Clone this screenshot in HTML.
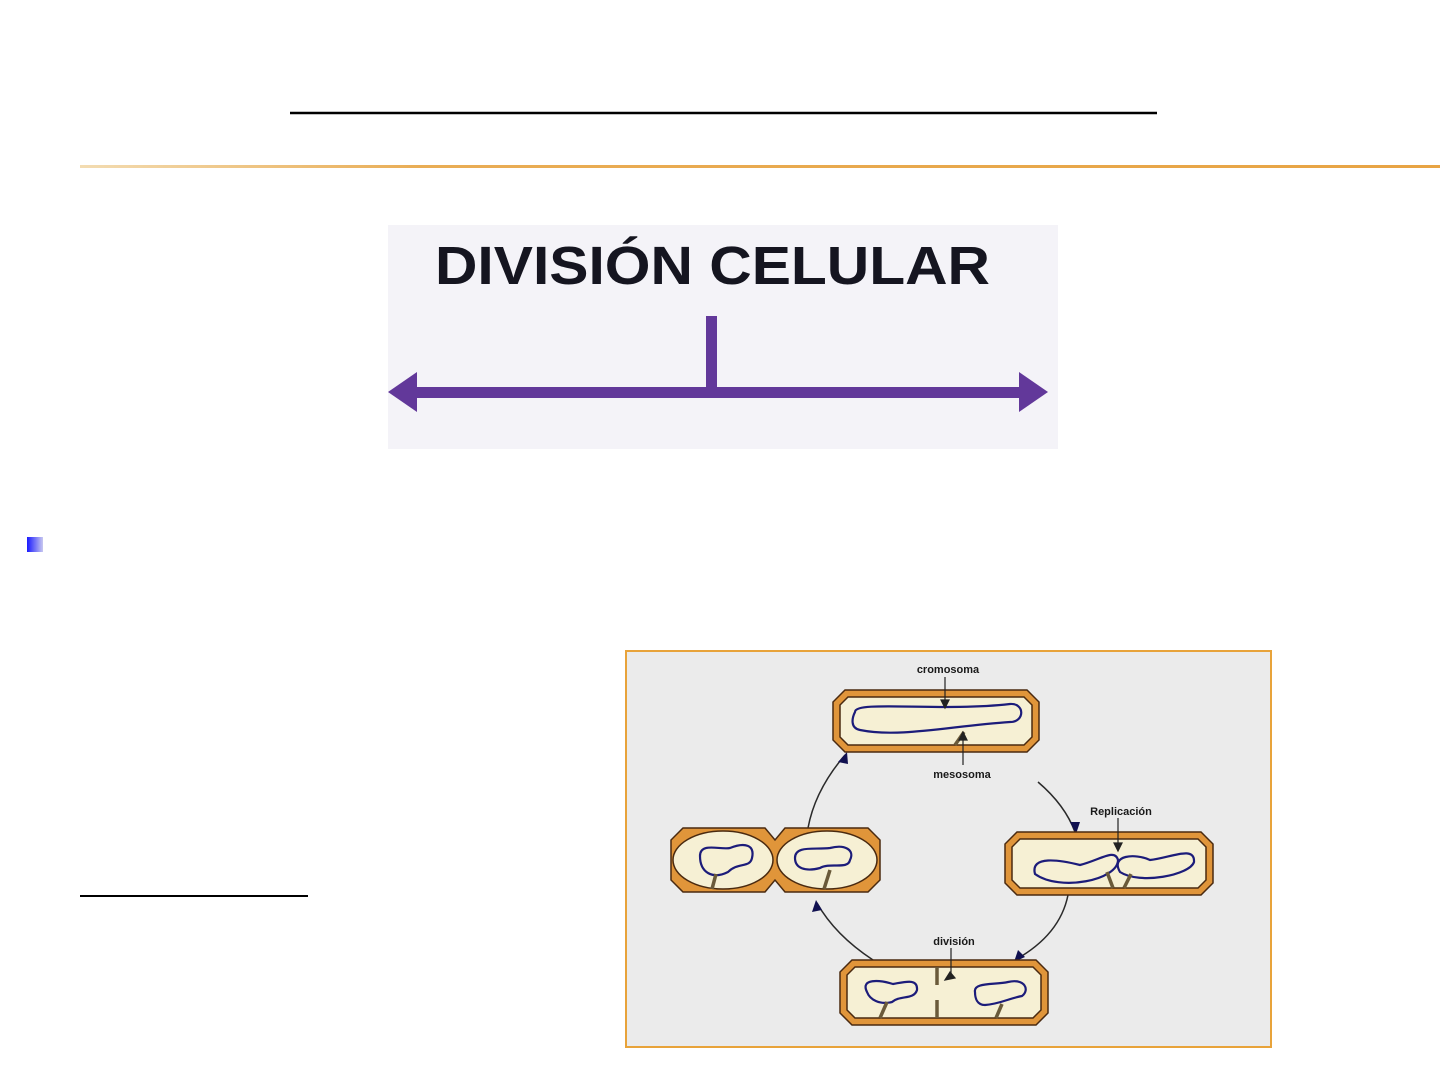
<!DOCTYPE html>
<html><head><meta charset="utf-8"><style>
html,body{margin:0;padding:0;background:#fff;}
svg{display:block}
</style></head><body>
<svg width="1440" height="1080" viewBox="0 0 1440 1080" xmlns="http://www.w3.org/2000/svg">
<defs>
<linearGradient id="og" x1="0" x2="1"><stop offset="0" stop-color="#f3dcb2"/><stop offset="0.25" stop-color="#e9ad55"/><stop offset="1" stop-color="#e8a444"/></linearGradient>
<linearGradient id="bg" x1="0" x2="1"><stop offset="0" stop-color="#1a1aff"/><stop offset="1" stop-color="#c8c8f0"/></linearGradient>
</defs>
<rect width="1440" height="1080" fill="#fff"/>
<line x1="290" y1="113" x2="1157" y2="113" stroke="#000" stroke-width="2.5"/>
<rect x="80" y="165" width="1360" height="3" fill="url(#og)"/>
<rect x="27" y="537" width="16" height="15" fill="url(#bg)"/>
<line x1="80" y1="896" x2="308" y2="896" stroke="#000" stroke-width="2"/>

<!-- division image -->
<rect x="388" y="225" width="670" height="224" fill="#f4f3f8"/>
<text x="435" y="284" font-family="Liberation Sans, sans-serif" font-weight="bold" font-size="54" fill="#151520" textLength="555" lengthAdjust="spacingAndGlyphs">DIVISIÓN CELULAR</text>
<rect x="706" y="316" width="11" height="76" fill="#62389a"/>
<rect x="408" y="387" width="620" height="11" fill="#62389a"/>
<polygon points="388,392 417,372 417,412" fill="#62389a"/>
<polygon points="1048,392 1019,372 1019,412" fill="#62389a"/>

<!-- cycle diagram -->
<rect x="626" y="651" width="645" height="396" fill="#ebebeb" stroke="#e8a33a" stroke-width="2"/>
<g stroke="#2a2a2a" stroke-width="1.5" fill="none">
<path d="M1038,782 Q1065,805 1075,832"/>
<path d="M1068,895 Q1060,935 1015,960"/>
<path d="M873,960 Q835,935 817,903"/>
<path d="M808,828 Q815,790 845,755"/>
</g>
<g fill="#101050">
<polygon points="1076,834 1070,822 1080,822"/>
<polygon points="1014,962 1018,950 1025,957"/>
<polygon points="816,900 812,912 822,910"/>
<polygon points="847,752 838,762 848,764"/>
</g>
<g id="cells" stroke="#4a2a10" stroke-width="1.5">
<!-- top cell -->
<polygon points="845,690 1027,690 1039,702 1039,740 1027,752 845,752 833,740 833,702" fill="#e0953a"/>
<polygon points="848,697 1024,697 1032,705 1032,737 1024,745 848,745 840,737 840,705" fill="#f6f0d4"/>
<!-- right cell -->
<polygon points="1017,832 1201,832 1213,844 1213,883 1201,895 1017,895 1005,883 1005,844" fill="#e0953a"/>
<polygon points="1020,839 1198,839 1206,847 1206,880 1198,888 1020,888 1012,880 1012,847" fill="#f6f0d4"/>
<!-- bottom cell -->
<polygon points="852,960 1036,960 1048,972 1048,1013 1036,1025 852,1025 840,1013 840,972" fill="#e0953a"/>
<polygon points="855,967 1033,967 1041,975 1041,1010 1033,1018 855,1018 847,1010 847,975" fill="#f6f0d4"/>
<!-- left pair -->
<polygon points="683,828 765,828 775,840 785,828 868,828 880,840 880,880 868,892 785,892 775,880 765,892 683,892 671,880 671,840" fill="#e0953a"/>
<ellipse cx="723" cy="860" rx="50" ry="29" fill="#f6f0d4"/>
<ellipse cx="827" cy="860" rx="50" ry="29" fill="#f6f0d4"/>
</g>
<g fill="none" stroke="#1c1c7a" stroke-width="2.2">
<path d="M855,712 C855,700 940,712 1010,704 C1025,703 1025,722 1010,722 C950,726 900,738 860,730 C850,728 852,718 855,712 Z"/>
<path d="M1035,874 C1030,855 1060,860 1080,865 C1100,860 1115,848 1118,860 C1118,880 1060,892 1035,874 Z"/>
<path d="M1120,872 C1110,855 1135,853 1150,860 C1170,858 1195,845 1194,862 C1190,875 1140,885 1120,872 Z"/>
<path d="M867,992 C860,978 880,980 893,984 C905,982 918,978 917,990 C914,1000 900,995 892,1002 C880,1005 870,1000 867,992 Z"/>
<path d="M975,992 C973,982 995,985 1008,982 C1025,978 1030,990 1022,996 C1010,998 1000,1004 985,1005 C977,1005 975,998 975,992 Z"/>
<path d="M700,856 C700,842 720,850 730,848 C745,842 755,845 752,858 C750,868 738,862 728,872 C712,880 700,872 700,856 Z"/>
<path d="M795,858 C795,845 815,850 830,848 C845,844 855,850 850,860 C848,870 830,862 820,868 C805,872 795,868 795,858 Z"/>
</g>
<g stroke="#6a5a3a" stroke-width="3.5">
<line x1="955" y1="745" x2="964" y2="732"/>
<line x1="1113" y1="888" x2="1107" y2="872"/>
<line x1="1124" y1="888" x2="1131" y2="874"/>
<line x1="880" y1="1018" x2="887" y2="1002"/>
<line x1="996" y1="1018" x2="1002" y2="1004"/>
<line x1="712" y1="889" x2="716" y2="874"/>
<line x1="824" y1="889" x2="830" y2="870"/>
<line x1="937" y1="967" x2="937" y2="985"/>
<line x1="937" y1="1000" x2="937" y2="1018"/>
</g>
<g stroke="#222" stroke-width="1.2" fill="#222">
<line x1="945" y1="677" x2="945" y2="703"/><polygon points="941,700 949,700 945,708"/>
<line x1="963" y1="765" x2="963" y2="738"/><polygon points="959,740 967,740 963,732"/>
<line x1="1118" y1="818" x2="1118" y2="846"/><polygon points="1114,843 1122,843 1118,851"/>
<line x1="951" y1="948" x2="951" y2="975"/><polygon points="945,980 950,972 955,978"/>
</g>
<g font-family="Liberation Sans, sans-serif" font-weight="bold" font-size="11" fill="#1a1a1a">
<text x="948" y="673" text-anchor="middle">cromosoma</text>
<text x="962" y="778" text-anchor="middle">mesosoma</text>
<text x="1121" y="815" text-anchor="middle">Replicación</text>
<text x="954" y="945" text-anchor="middle">división</text>
</g>
</svg>
</body></html>
